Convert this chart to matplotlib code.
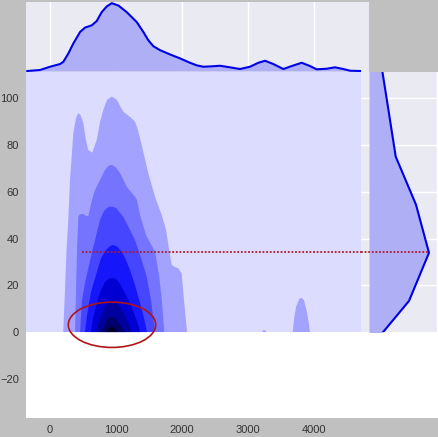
import matplotlib
matplotlib.use("Agg")
import matplotlib.pyplot as plt
from matplotlib.patches import Ellipse

plt.rcParams['font.family'] = ['Liberation Sans', 'DejaVu Sans']

# ---------------- data ----------------
x_ticks = [0, 1000, 2000, 3000, 4000]
y_ticks = [-20, 0, 20, 40, 60, 80, 100]

# outer extent of the KDE grid (lowest filled level)
kde_x_extent = [-400, 4712]
kde_y_extent = [0, 115]

level1_x = [200, 227, 250, 277, 303, 353, 394, 429, 462, 505, 545, 580, 641, 708, 758, 808,
            864, 935, 1011, 1111, 1212, 1288, 1333, 1389, 1489, 1591, 1692, 1758, 1818, 1844,
            1894, 1944, 1995, 2030, 2076]
level1_y = [0, 18, 35.1, 48, 65.1, 85.1, 91.6, 93.7, 92.9, 89.4, 82.2, 77.9, 76.8, 82.2, 89.9,
            95.1, 99.4, 100.8, 99.4, 94.3, 92.1, 90.1, 86.5, 80.1, 68, 57.9, 50.1, 43.7, 33,
            28.7, 27.8, 27.3, 25.1, 13.7, 0]

blob_a_x = [3677, 3700, 3730, 3780, 3813, 3850, 3890, 3920, 3939]
blob_a_y = [0, 6, 11, 14.3, 14.6, 13.5, 9, 4, 0]
blob_b_x = [3217, 3235, 3255, 3283]
blob_b_y = [0, 0.9, 0.8, 0]

level2_x = [379, 394, 409, 429, 455, 505, 545, 580, 636, 682, 758, 833, 894, 944, 1000, 1061,
            1162, 1227, 1288, 1318, 1364, 1455, 1591, 1652, 1692, 1732]
level2_y = [0, 18, 35.1, 49.4, 50.5, 50.5, 49.7, 49.7, 56.5, 60.8, 65.1, 69.4, 71.3, 71.5, 70.4,
            68, 62.2, 60, 57.9, 56.5, 50.1, 41.5, 34.4, 24.4, 14.4, 0]

level3_x = [455, 485, 530, 591, 656, 712, 758, 818, 879, 939, 1000, 1061, 1111, 1182, 1288, 1379,
            1465, 1530, 1591]
level3_y = [0, 13.7, 21, 28.7, 36.5, 42.8, 48, 51.8, 53.5, 53.7, 53.1, 51, 49.4, 45.4, 39.4,
            31.7, 23.7, 13.7, 0]

level4_x = [530, 561, 621, 697, 773, 848, 909, 955, 1015, 1076, 1136, 1212, 1288, 1364, 1424, 1470]
level4_y = [0, 7.3, 17.1, 24.4, 31.7, 35.1, 36.8, 37.3, 36.6, 34.7, 31.7, 26.6, 20.1, 12.4, 6, 0]

level5_x = [621, 652, 712, 773, 833, 894, 947, 1000, 1061, 1136, 1212, 1288, 1333, 1364]
level5_y = [0, 6, 12.8, 18, 21.4, 22.9, 23.1, 22.7, 20.6, 16.7, 12.4, 6.9, 3.4, 0]

level6_x = [697, 742, 803, 864, 924, 985, 1045, 1121, 1182, 1242]
level6_y = [0, 4.7, 9, 12, 13.1, 12.8, 11.1, 7.7, 4.3, 0]

level7_x = [773, 818, 864, 909, 955, 1015, 1076, 1136]
level7_y = [0, 3, 5.4, 6.4, 6.4, 5.1, 2.6, 0]

level8_x = [848, 879, 924, 970, 1000, 1030]
level8_y = [0, 1.5, 2.3, 2.1, 1.3, 0]

level_colors = ['#dcdcff', '#a3a3ff', '#7474ff', '#4646ff', '#1616fa',
                '#0000d2', '#00009e', '#00006a', '#000028']

# marginal of x (top)
top_x = [-344, -152, 0, 152, 202, 278, 353, 455, 530, 632, 707, 783, 859, 935, 1035, 1162, 1314,
         1414, 1489, 1565, 1667, 1818, 1970, 2121, 2222, 2323, 2449, 2576, 2727, 2879, 3030,
         3157, 3258, 3384, 3535, 3662, 3813, 3939, 4041, 4192, 4318, 4444, 4545, 4697]
top_density = [0, 1, 4.3, 7, 9.3, 17.7, 27.7, 39.3, 43.7, 46, 50.3, 59.3, 65, 68.3, 66, 59.3,
               49.3, 39.3, 31, 25, 21, 16.7, 12.7, 8.3, 5.7, 4.3, 4.7, 5.3, 3.7, 2, 4.3, 8.3,
               10.3, 7, 2, 5, 8.3, 5, 1.7, 2.3, 3.7, 2, 0.3, 0]

# marginal of y (right)
right_y = [-7.3, 13.3, 33.9, 54.5, 75.1, 95.7, 116.3]
right_density = [0, 40, 60, 47, 26.7, 19.2, 11.6]

mean_y = 34.4
mean_x_start = 480
mode_center = (939, 3.1)
mode_width = 1324
mode_height = 19.4

# ---------------- figure ----------------
W, H = 438, 437
fig = plt.figure(figsize=(W / 100, H / 100), dpi=100, facecolor='#c0c0c0')


def rect(l, t, r, b):
    return [l / W, (H - b) / H, (r - l) / W, (b - t) / H]


ax = fig.add_axes(rect(26, 72, 438, 418))
ax_top = fig.add_axes(rect(26, 2, 369, 72))
ax_right = fig.add_axes(rect(361, 72, 438, 332))

# main axes
ax.set_facecolor('white')
for s in ax.spines.values():
    s.set_visible(False)
ax.set_xlim(-364, 5879)
ax.set_ylim(-36.8, 111.3)

ax.fill([kde_x_extent[0], kde_x_extent[1], kde_x_extent[1], kde_x_extent[0]],
        [kde_y_extent[0], kde_y_extent[0], kde_y_extent[1], kde_y_extent[1]],
        color=level_colors[0], lw=0, zorder=1)
levels = [(level1_x, level1_y), (level2_x, level2_y), (level3_x, level3_y),
          (level4_x, level4_y), (level5_x, level5_y), (level6_x, level6_y),
          (level7_x, level7_y), (level8_x, level8_y)]
for i, (lx, ly) in enumerate(levels):
    ax.fill(lx, ly, color=level_colors[i + 1], lw=0, zorder=2 + i)
ax.fill(blob_a_x, blob_a_y, color=level_colors[1], lw=0, zorder=2)
ax.fill(blob_b_x, blob_b_y, color=level_colors[1], lw=0, zorder=2)

ax.plot([mean_x_start, kde_x_extent[1]], [mean_y, mean_y], color='#b0182a',
        lw=1.3, ls=(0, (1, 1)), zorder=20)
ax.add_patch(Ellipse(mode_center, mode_width, mode_height, fill=False,
                     edgecolor='#b01515', lw=1.2, zorder=21))

ax.set_xticks(x_ticks)
ax.set_yticks(y_ticks)
ax.tick_params(length=0, labelsize=8, labelcolor='#333333', pad=5)
ax.grid(False)

# top marginal
ax_top.set_facecolor('#eaeaf2')
for s in ax_top.spines.values():
    s.set_visible(False)
ax_top.set_xlim(-364, 4833)
ax_top.set_ylim(-1, 69.5)
ax_top.fill_between(top_x, 0, top_density, color='#afaff5', lw=0, zorder=2)
ax_top.plot(top_x, top_density, color='#0000e6', lw=1.5, zorder=3)
ax_top.set_xticks(x_ticks)
ax_top.set_yticks([])
ax_top.grid(True, axis='x', color='white', lw=1.0, zorder=1)
ax_top.set_axisbelow(True)
ax_top.tick_params(length=0, labelbottom=False, labelleft=False)

# right marginal
ax_right.set_facecolor('#eaeaf2')
for s in ax_right.spines.values():
    s.set_visible(False)
ax_right.set_xlim(-8, 69)
ax_right.set_ylim(0, 111.3)
ax_right.fill_betweenx(right_y, 0, right_density, color='#afaff5', lw=0, zorder=2)
ax_right.plot(right_density, right_y, color='#0000e6', lw=1.5, zorder=3)
ax_right.set_yticks([20, 40, 60, 80, 100])
ax_right.set_xticks([68])
ax_right.grid(True, color='white', lw=1.0, zorder=1)
ax_right.set_axisbelow(True)
ax_right.tick_params(length=0, labelbottom=False, labelleft=False)
ax_right.plot([-8, max(right_density)], [mean_y, mean_y], color='#b0182a',
              lw=1.3, ls=(0, (1, 1)), zorder=20)

fig.savefig('out.png', dpi=100, facecolor=fig.get_facecolor())
